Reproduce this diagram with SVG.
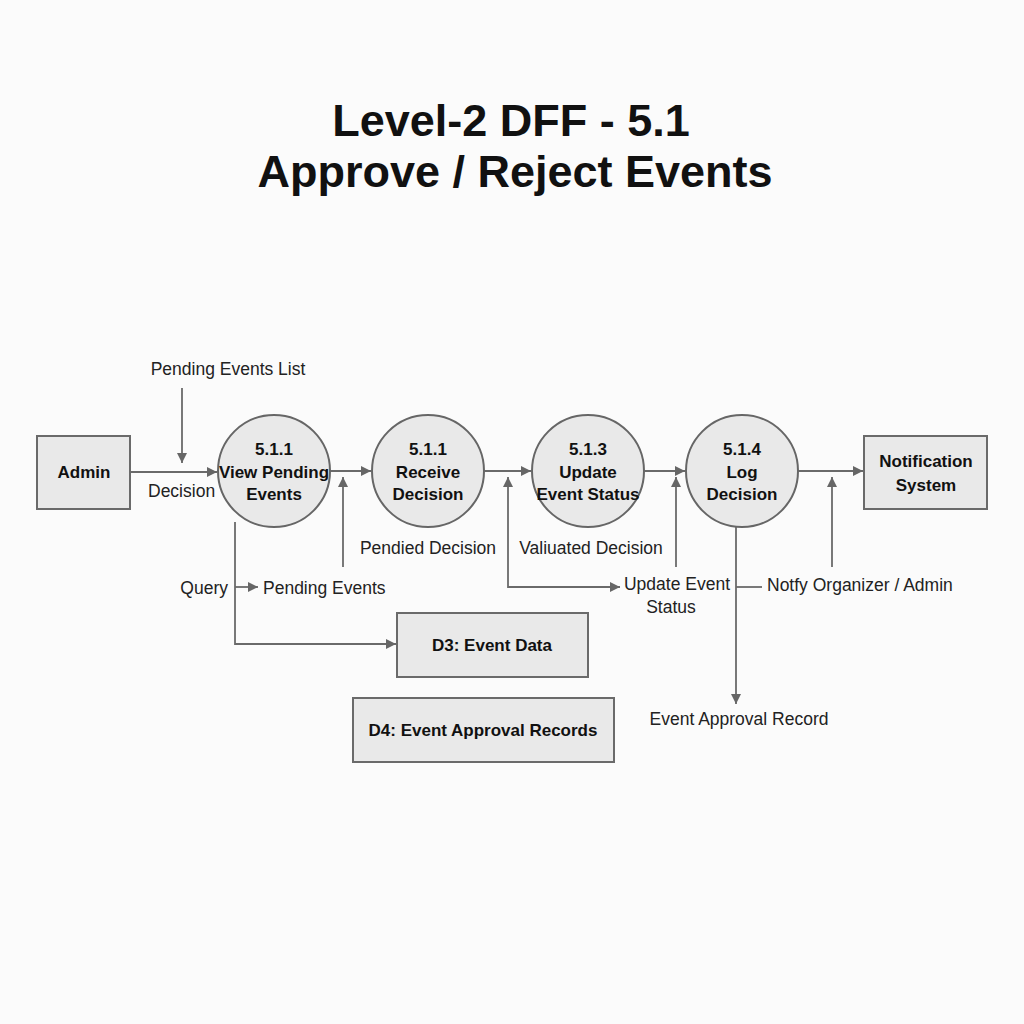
<svg xmlns="http://www.w3.org/2000/svg" width="1024" height="1024" viewBox="0 0 1024 1024">
<style>
.t{font-family:"Liberation Sans",Arial,sans-serif;font-weight:bold;font-size:45px;fill:#111;text-anchor:middle}
.n{font-family:"Liberation Sans",Arial,sans-serif;font-weight:bold;font-size:17px;fill:#111;text-anchor:middle}
.l{font-family:"Liberation Sans",Arial,sans-serif;font-size:17.5px;fill:#222}
.box{fill:#e9e9e9;stroke:#6a6a6a;stroke-width:2}
.c{fill:#e9e9e9;stroke:#666;stroke-width:2}
.e{fill:none;stroke:#6a6a6a;stroke-width:1.8}
</style>
<defs>
<marker id="a" viewBox="0 0 10 10" refX="10" refY="5" markerWidth="10" markerHeight="10" markerUnits="userSpaceOnUse" orient="auto">
<path d="M0,0 L10,5 L0,10 z" fill="#666"/>
</marker>
</defs>
<rect width="1024" height="1024" fill="#fbfbfb"/>
<text class="t" x="511" y="136">Level-2 DFF - 5.1</text>
<text class="t" x="515" y="187">Approve / Reject Events</text>

<g id="connectors">
<path class="e" d="M130,472 H217" marker-end="url(#a)"/>
<path class="e" d="M182,388 V463" marker-end="url(#a)"/>
<path class="e" d="M330,471 H371" marker-end="url(#a)"/>
<path class="e" d="M343,567 V477" marker-end="url(#a)"/>
<path class="e" d="M484,471 H531" marker-end="url(#a)"/>
<path class="e" d="M620,587 H508 V477" marker-end="url(#a)"/>
<path class="e" d="M508,587 H620" marker-end="url(#a)"/>
<path class="e" d="M644,471 H685" marker-end="url(#a)"/>
<path class="e" d="M676,567 V477" marker-end="url(#a)"/>
<path class="e" d="M798,471 H863" marker-end="url(#a)"/>
<path class="e" d="M832,567 V477" marker-end="url(#a)"/>
<path class="e" d="M736,526 V704" marker-end="url(#a)"/>
<path class="e" d="M736,587 H762"/>
<path class="e" d="M235,522 V644 H396" marker-end="url(#a)"/>
<path class="e" d="M235,587 H258" marker-end="url(#a)"/>
</g>

<g id="admin"><rect class="box" x="37" y="436" width="93" height="73"/><text class="n" x="84" y="478">Admin</text></g>
<g id="p511"><circle class="c" cx="274" cy="471" r="56"/><text class="n" x="274" y="455">5.1.1</text><text class="n" x="274" y="478">View Pending</text><text class="n" x="274" y="500">Events</text></g>
<g id="p511b"><circle class="c" cx="428" cy="471" r="56"/><text class="n" x="428" y="455">5.1.1</text><text class="n" x="428" y="478">Receive</text><text class="n" x="428" y="500">Decision</text></g>
<g id="p513"><circle class="c" cx="588" cy="471" r="56"/><text class="n" x="588" y="455">5.1.3</text><text class="n" x="588" y="478">Update</text><text class="n" x="588" y="500">Event Status</text></g>
<g id="p514"><circle class="c" cx="742" cy="471" r="56"/><text class="n" x="742" y="455">5.1.4</text><text class="n" x="742" y="478">Log</text><text class="n" x="742" y="500">Decision</text></g>
<g id="notif"><rect class="box" x="864" y="436" width="123" height="73"/><text class="n" x="926" y="467">Notification</text><text class="n" x="926" y="491">System</text></g>
<g id="d3"><rect class="box" x="397" y="613" width="191" height="64"/><text class="n" x="492" y="651">D3: Event Data</text></g>
<g id="d4"><rect class="box" x="353" y="698" width="261" height="64"/><text class="n" x="483" y="736">D4: Event Approval Records</text></g>

<g id="labels">
<text class="l" x="228" y="375" text-anchor="middle">Pending Events List</text>
<text class="l" x="148" y="497">Decision</text>
<text class="l" x="228" y="594" text-anchor="end">Query</text>
<text class="l" x="263" y="594">Pending Events</text>
<text class="l" x="428" y="554" text-anchor="middle">Pendied Decision</text>
<text class="l" x="591" y="554" text-anchor="middle">Valiuated Decision</text>
<text class="l" x="677" y="590" text-anchor="middle">Update Event</text>
<text class="l" x="671" y="613" text-anchor="middle">Status</text>
<text class="l" x="767" y="591">Notfy Organizer / Admin</text>
<text class="l" x="739" y="725" text-anchor="middle">Event Approval Record</text>
</g>
</svg>
